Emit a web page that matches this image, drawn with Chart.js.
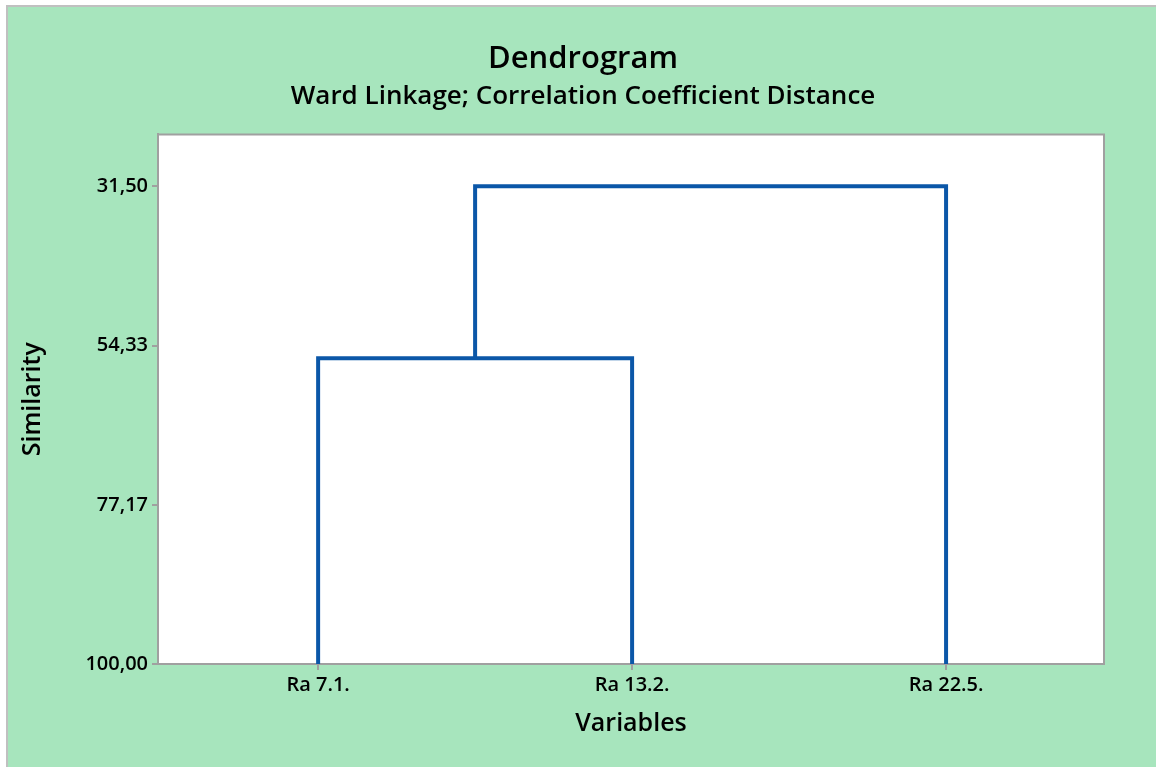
<!DOCTYPE html>
<html>
<head>
<meta charset="utf-8">
<script src="https://cdn.jsdelivr.net/npm/chart.js@4.4.1/dist/chart.umd.min.js"></script>
<style>
  html, body { margin: 0; padding: 0; background: #ffffff; }
  #wrap { width: 1156px; height: 767px; }
</style>
</head>
<body>
<div id="wrap"><canvas id="c" width="1156" height="767"></canvas></div>
<script>
// ---- data ----
const leafLabels = ['Ra 7.1.', 'Ra 13.2.', 'Ra 22.5.'];
const leafPositions = [1, 2, 3];
const yTickValues = [31.50, 54.33, 77.17, 100.00];
// merge steps: node ids (leaves are 0..2, merged clusters get 3, 4, ...)
const mergeLeftNode = [0, 3];
const mergeRightNode = [1, 2];
const mergeSimilarity = [56.15, 31.50];

const FONT = '"Open Sans", "Noto Sans", sans-serif';
const lineColor = '#0b57a8';
const axisGrey = '#a0a0a0';

// build dendrogram link paths from the merge arrays
const nodeX = leafPositions.slice();
const nodeY = leafPositions.map(() => 100);
const datasets = [];
for (let i = 0; i < mergeSimilarity.length; i++) {
  const a = mergeLeftNode[i], b = mergeRightNode[i], h = mergeSimilarity[i];
  datasets.push({
    data: [
      { x: nodeX[a], y: nodeY[a] },
      { x: nodeX[a], y: h },
      { x: nodeX[b], y: h },
      { x: nodeX[b], y: nodeY[b] }
    ],
    showLine: true,
    borderColor: lineColor,
    borderWidth: 4,
    pointRadius: 0,
    tension: 0,
    borderJoinStyle: 'miter',
    borderCapStyle: 'butt',
    yAxisID: 'y'
  });
  nodeX.push((nodeX[a] + nodeX[b]) / 2);
  nodeY.push(h);
}

const bgPlugin = {
  id: 'bg',
  beforeDraw(chart) {
    const ctx = chart.ctx;
    const W = chart.width, H = chart.height;
    ctx.save();
    ctx.fillStyle = '#ffffff';
    ctx.fillRect(0, 0, W, H);
    ctx.fillStyle = '#a7e5bd';
    ctx.fillRect(7, 6, W - 7, H - 6);
    ctx.strokeStyle = '#c0c0c0';
    ctx.lineWidth = 2;
    ctx.beginPath();
    ctx.moveTo(7, H);
    ctx.lineTo(7, 6);
    ctx.lineTo(W, 6);
    ctx.stroke();
    const a = chart.chartArea;
    ctx.fillStyle = '#ffffff';
    ctx.fillRect(a.left, a.top, a.right - a.left, a.bottom - a.top);
    ctx.restore();
  },
  afterDraw(chart) {
    const ctx = chart.ctx;
    const a = chart.chartArea;
    ctx.save();
    ctx.strokeStyle = axisGrey;
    ctx.lineWidth = 2;
    ctx.beginPath();
    ctx.moveTo(a.left, a.top);
    ctx.lineTo(a.right, a.top);
    ctx.lineTo(a.right, a.bottom);
    ctx.stroke();
    ctx.restore();
  }
};

new Chart(document.getElementById('c'), {
  type: 'scatter',
  data: { datasets },
  plugins: [bgPlugin],
  options: {
    responsive: false,
    animation: false,
    layout: { padding: { left: 10, right: 0, top: 0, bottom: 0 } },
    plugins: {
      legend: { display: false },
      tooltip: { enabled: false },
      title: {
        display: true,
        text: 'Dendrogram',
        color: '#000',
        font: { family: FONT, size: 31, weight: '600' },
        padding: { top: 41, bottom: 3 }
      },
      subtitle: {
        display: true,
        text: 'Ward Linkage; Correlation Coefficient Distance',
        color: '#000',
        font: { family: FONT, size: 26, weight: '600' },
        padding: { top: 0, bottom: 22 }
      }
    },
    scales: {
      x: {
        type: 'linear',
        min: 0.49,
        max: 3.503,
        afterFit(s) { s.height = 103; },
        afterBuildTicks(s) { s.ticks = leafPositions.map(v => ({ value: v })); },
        grid: { drawOnChartArea: false, drawTicks: true, tickLength: 6, color: axisGrey, lineWidth: 2 },
        border: { display: true, color: axisGrey, width: 2 },
        ticks: {
          color: '#000',
          font: { family: FONT, size: 20, weight: '600' },
          padding: 3,
          maxRotation: 0,
          callback: (v) => { const i = leafPositions.indexOf(v); return i >= 0 ? leafLabels[i] : ''; }
        },
        title: {
          display: true,
          text: 'Variables',
          color: '#000',
          font: { family: FONT, size: 25, weight: '600' },
          padding: { top: 0, bottom: 28 }
        }
      },
      y: {
        type: 'linear',
        position: 'left',
        reverse: true,
        min: 24.05,
        max: 100,
        afterFit(s) { s.width = 148; },
        afterBuildTicks(s) { s.ticks = yTickValues.map(v => ({ value: v })); },
        grid: { drawOnChartArea: false, drawTicks: true, tickLength: 6, color: axisGrey, lineWidth: 2 },
        border: { display: true, color: axisGrey, width: 2 },
        ticks: {
          color: '#000',
          font: { family: FONT, size: 20, weight: '600' },
          padding: 4,
          callback: (v) => Number(v).toFixed(2).replace('.', ',')
        },
        title: {
          display: true,
          text: 'Similarity',
          color: '#000',
          font: { family: FONT, size: 25, weight: '600' },
          padding: { top: 8, bottom: 0 }
        }
      },
      yRight: {
        type: 'linear',
        position: 'right',
        display: true,
        min: 0,
        max: 1,
        afterFit(s) { s.width = 52; },
        grid: { display: false, drawTicks: false },
        border: { display: false },
        ticks: { display: false },
        title: { display: false }
      }
    }
  }
});
</script>
</body>
</html>
